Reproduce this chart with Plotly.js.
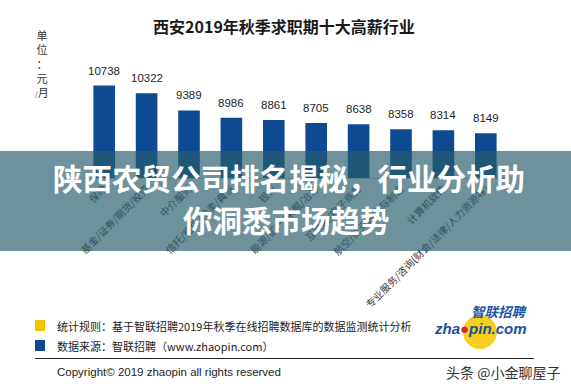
<!DOCTYPE html>
<html>
<head>
<meta charset="utf-8">
<script src="https://cdn.plot.ly/plotly-3.0.1.min.js"></script>
<style>html,body{margin:0;padding:0;background:#fff;}#chart{width:571px;height:386px;}</style>
</head>
<body>
<div id="chart"></div>
<script>
// ---- data ----
const chartTitle = "西安2019年秋季求职期十大高薪行业";
const unitLines = ["单", "位", "：", "元", "/月"];
const categories = ["保险", "基金/证券/期货/投资", "中介服务", "信托/担保/拍卖/典当", "银行",
  "能源/矿产/采掘/冶炼", "互联网/电子商务", "航空/航天研究与制造", "计算机软件",
  "专业服务/咨询(财会/法律/人力资源等)"];
const salaries = [10738, 10322, 9389, 8986, 8861, 8705, 8638, 8358, 8314, 8149];
const bannerLines = ["陕西农贸公司排名揭秘，行业分析助", "你洞悉市场趋势"];
const noteLines = ["统计规则：基于智联招聘2019年秋季在线招聘数据库的数据监测统计分析",
  "数据来源：智联招聘（www.zhaopin.com）"];
const copyrightText = "Copyright© 2019 zhaopin all rights reserved";
const watermarkText = "头条 @小金聊屋子";
const logoCn = "智联招聘";
const logoEn = "zha<span style='color:#d7262b'>●</span>pin.com";

// ---- layout geometry (pixels) ----
const W = 571, H = 386;
const M = {l: 83, r: 64, t: 60, b: 208};
const PW = W - M.l - M.r, PH = H - M.t - M.b;
const PB = H - M.b; // plot bottom pixel
const yMin = 5711, unitsPerPx = 54.4;
const yMax = yMin + PH * unitsPerPx;
const px = x => (x - M.l) / PW;
const py = y => (PB - y) / PH;

const CJK = "'Noto Sans CJK SC', 'Noto Sans', sans-serif";
const LAT = "'Liberation Sans', Arial, sans-serif";

const trace = {
  type: "bar",
  x: categories,
  y: salaries,
  marker: {color: "#0e4a91"},
  hoverinfo: "none"
};

const annotations = [];
// value labels
categories.forEach((c, i) => {
  annotations.push({
    x: c, y: salaries[i], xref: "x", yref: "y",
    text: String(salaries[i]), showarrow: false,
    yanchor: "bottom", xanchor: "center", yshift: 7,
    font: {family: LAT, size: 11.5, color: "#1e1e1e"}
  });
});
// unit label (vertical stacked glyphs)
annotations.push({
  x: px(42), y: py(63), xref: "paper", yref: "paper",
  text: unitLines.map(t => t.replace("/", "<span style='font-size:7px'>/</span>")).join("<br>"),
  showarrow: false, xanchor: "center", yanchor: "middle", align: "center",
  font: {family: CJK, size: 11, color: "#333"}
});
// banner text
const bannerPos = [[289, 177], [286, 219]];
bannerLines.forEach((t, i) => {
  annotations.push({
    x: px(bannerPos[i][0]), y: py(bannerPos[i][1]), xref: "paper", yref: "paper",
    text: "<b>" + t + "</b>", showarrow: false, xanchor: "center", yanchor: "middle",
    font: {family: CJK, size: 29.5, color: "#ffffff"}
  });
});
// footer notes
const notePos = [[55, 326], [55, 346]];
noteLines.forEach((t, i) => {
  annotations.push({
    x: px(notePos[i][0]), y: py(notePos[i][1]), xref: "paper", yref: "paper",
    text: t, showarrow: false, xanchor: "left", yanchor: "middle",
    font: {family: CJK, size: 11, color: "#222"}
  });
});
annotations.push({
  x: px(55), y: py(372), xref: "paper", yref: "paper", text: copyrightText,
  showarrow: false, xanchor: "left", yanchor: "middle",
  font: {family: LAT, size: 11.5, color: "#222"}
});
annotations.push({
  x: px(562), y: py(372), xref: "paper", yref: "paper", text: watermarkText,
  showarrow: false, xanchor: "right", yanchor: "middle",
  font: {family: CJK, size: 14, color: "#333"}
});
annotations.push({
  x: px(499), y: py(311), xref: "paper", yref: "paper", text: "<b><i>" + logoCn + "</i></b>",
  showarrow: false, xanchor: "center", yanchor: "middle",
  font: {family: CJK, size: 13.5, color: "#1c56a8"}
});
annotations.push({
  x: px(480), y: py(328), xref: "paper", yref: "paper", text: "<b><i>" + logoEn + "</i></b>",
  showarrow: false, xanchor: "center", yanchor: "middle",
  font: {family: LAT, size: 15, color: "#1c4f9c"}
});

const rect = (x0, y0, x1, y1, fill, layer) => ({
  type: "rect", xref: "paper", yref: "paper",
  x0: px(x0), x1: px(x1), y0: py(y1), y1: py(y0),
  fillcolor: fill, line: {width: 0}, layer: layer || "above"
});
const shapes = [
  {type: "circle", xref: "paper", yref: "paper", x0: px(463), x1: px(497), y0: py(349), y1: py(315),
   fillcolor: "#f6cf1c", line: {width: 0}, layer: "above"},
  rect(0, 151, W, 251, "rgba(40,95,108,0.68)"),
  rect(35, 320, 45, 331, "#f2c400"),
  rect(35, 340, 45, 351, "#0e4a91"),
  {type: "line", xref: "paper", yref: "paper", x0: px(35), x1: px(534), y0: py(358.5), y1: py(358.5),
   line: {color: "#222", width: 1}, layer: "above"}
];

const layout = {
  width: W, height: H,
  margin: M,
  paper_bgcolor: "#ffffff", plot_bgcolor: "#ffffff",
  showlegend: false,
  bargap: 0.49,
  title: {
    text: "<b>" + chartTitle + "</b>",
    x: 284 / W, xanchor: "center", xref: "container",
    y: 1 - 27.5 / H, yanchor: "middle", yref: "container",
    font: {family: CJK, size: 16, color: "#1a1a1a"}
  },
  xaxis: {
    type: "category",
    tickangle: -45,
    showline: true, linecolor: "#c8c8c8", linewidth: 1,
    ticks: "", showgrid: false, zeroline: false,
    tickfont: {family: CJK, size: 10, color: "#3a3a3a"},
    automargin: false
  },
  yaxis: {
    range: [yMin, yMax],
    visible: false, showgrid: false, zeroline: false
  },
  annotations: annotations,
  shapes: shapes
};

Plotly.newPlot("chart", [trace], layout, {displayModeBar: false, staticPlot: true});
</script>
</body>
</html>
